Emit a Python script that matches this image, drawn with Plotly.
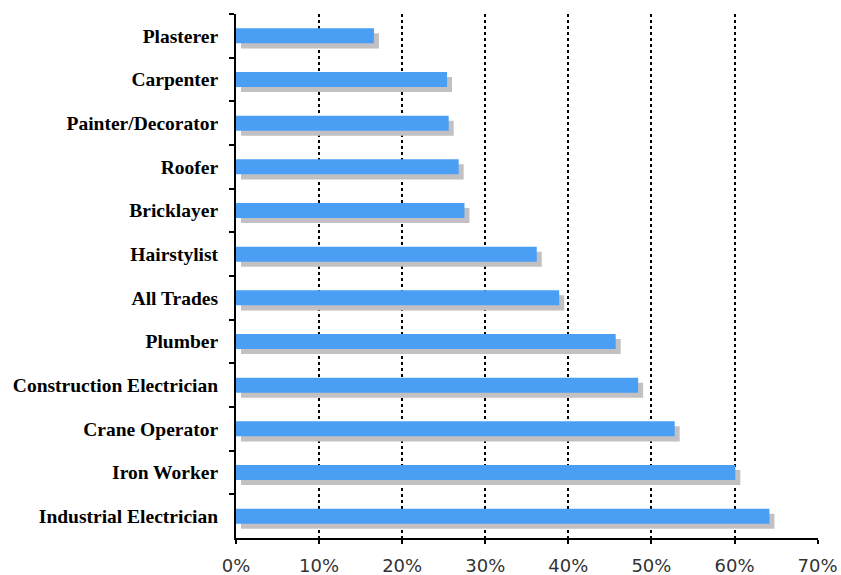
import plotly.graph_objects as go

categories = ["Plasterer", "Carpenter", "Painter/Decorator", "Roofer", "Bricklayer",
              "Hairstylist", "All Trades", "Plumber", "Construction Electrician",
              "Crane Operator", "Iron Worker", "Industrial Electrician"]
values = [16.6, 25.4, 25.6, 26.8, 27.5, 36.2, 38.9, 45.7, 48.4, 52.8, 60.1, 64.2]
tick_vals = [0, 10, 20, 30, 40, 50, 60, 70]
tick_text = ["0%", "10%", "20%", "30%", "40%", "50%", "60%", "70%"]

BW = 0.345
SHADOW_DX = 0.6
SHADOW_DY = 0.115

fig = go.Figure()
fig.add_trace(go.Bar(
    y=categories, x=values, orientation="h", base=SHADOW_DX,
    width=BW, offset=-BW / 2 + SHADOW_DY,
    marker=dict(color="#c2c0c2", line=dict(width=0)), hoverinfo="skip", showlegend=False))
fig.add_trace(go.Bar(
    y=categories, x=values, orientation="h",
    width=BW, offset=-BW / 2,
    marker=dict(color="#4a9ff5", line=dict(width=0)), showlegend=False))

fig.update_layout(
    width=841, height=575,
    margin=dict(l=236, r=23, t=14, b=37),
    plot_bgcolor="white", paper_bgcolor="white",
    barmode="overlay",
    xaxis=dict(range=[0, 70.05], tickmode="array", tickvals=tick_vals, ticktext=tick_text,
               showgrid=True, gridcolor="black", griddash="dot", gridwidth=2,
               showline=True, linecolor="black", linewidth=2,
               ticks="outside", ticklen=4, tickcolor="black", tickwidth=2,
               zeroline=False, automargin=False, ticklabelstandoff=6,
               tickfont=dict(family="DejaVu Sans", size=18, color="#333")),
    yaxis=dict(categoryorder="array", categoryarray=categories, autorange="reversed",
               showline=True, linecolor="black", linewidth=2,
               ticks="outside", ticklen=5, tickcolor="black", tickwidth=2,
               tickson="boundaries", showgrid=False, automargin=False,
               ticklabelstandoff=12,
               tickfont=dict(family="Liberation Serif", size=19.5, color="black", weight="bold")),
)

fig.write_html("out.html")
